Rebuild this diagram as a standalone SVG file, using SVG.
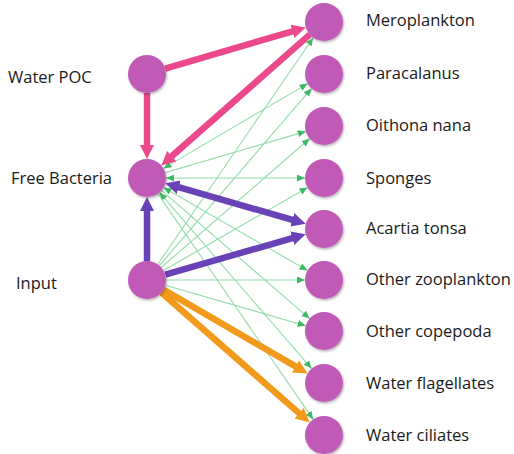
<svg xmlns="http://www.w3.org/2000/svg" width="514" height="454" viewBox="0 0 514 454">
<style>
.node{fill:#c05ab6;filter:url(#sh)}
.lbl{font-family:"Open Sans","Liberation Sans",sans-serif;font-size:16.5px;fill:#1a1a1a}
.g{stroke:#93dcaa;stroke-width:1.1;fill:none;marker-end:url(#ag)}
.pink{stroke:#ec4a8c;stroke-width:6.5;fill:none;marker-end:url(#ap);filter:url(#bl)}
.purple{stroke:#6b43b8;stroke-width:6.5;fill:none;marker-end:url(#au);filter:url(#bl)}
.orange{stroke:#f29a1f;stroke-width:6.5;fill:none;marker-end:url(#ao);filter:url(#bl)}
</style>
<defs>
<filter id="sh" x="-30%" y="-30%" width="170%" height="170%"><feDropShadow dx="1" dy="1.5" stdDeviation="1" flood-color="#000" flood-opacity="0.3"/></filter>
<filter id="bl" filterUnits="userSpaceOnUse" x="0" y="0" width="514" height="454"><feGaussianBlur stdDeviation="0.7"/></filter>
<marker id="ag" markerUnits="userSpaceOnUse" markerWidth="9" markerHeight="8" refX="8" refY="3.5" orient="auto-start-reverse"><path d="M0,0 L8,3.5 L0,7 z" fill="#3db865"/></marker>
<marker id="ap" markerUnits="userSpaceOnUse" markerWidth="15" markerHeight="15" refX="2" refY="7" orient="auto-start-reverse"><path d="M0,0 L14,7 L0,14 z" fill="#ec4a8c"/></marker>
<marker id="au" markerUnits="userSpaceOnUse" markerWidth="15" markerHeight="15" refX="2" refY="7" orient="auto-start-reverse"><path d="M0,0 L14,7 L0,14 z" fill="#6b43b8"/></marker>
<marker id="ao" markerUnits="userSpaceOnUse" markerWidth="15" markerHeight="15" refX="2" refY="7" orient="auto-start-reverse"><path d="M0,0 L14,7 L0,14 z" fill="#f29a1f"/></marker>
</defs>
<g id="connectors">
<line class="g" x1="163.4" y1="168.4" x2="307.6" y2="83.6" marker-start="url(#ag)"/>
<line class="g" x1="165.2" y1="172.6" x2="305.8" y2="131.4"/>
<line class="g" x1="166" y1="178" x2="305" y2="178" marker-start="url(#ag)"/>
<line class="g" x1="163.5" y1="187.5" x2="307.5" y2="270.5" marker-start="url(#ag)"/>
<line class="g" x1="161.4" y1="190.4" x2="309.6" y2="318.6"/>
<line class="g" x1="159.4" y1="192.4" x2="311.6" y2="368.6" marker-start="url(#ag)"/>
<line class="g" x1="157.8" y1="193.6" x2="313.2" y2="419.4"/>
<line class="g" x1="157.8" y1="264.3" x2="313.2" y2="37.7"/>
<line class="g" x1="159.4" y1="265.6" x2="311.6" y2="88.4"/>
<line class="g" x1="161.3" y1="267.5" x2="309.7" y2="138.5"/>
<line class="g" x1="163.5" y1="270.5" x2="307.5" y2="187.5"/>
<line class="g" x1="166" y1="280" x2="305" y2="280"/>
<line class="g" x1="165.3" y1="285.3" x2="305.7" y2="325.7"/>
<line class="pink" x1="165.2" y1="68.6" x2="294.3" y2="30.8"/>
<line class="pink" x1="147" y1="93" x2="147" y2="147"/>
<line class="pink" x1="309.7" y1="34.6" x2="170.3" y2="157.5"/>
<line class="purple" x1="147" y1="261" x2="147" y2="209"/>
<line class="purple" x1="176.8" y1="186.6" x2="294.2" y2="220.4" marker-start="url(#au)"/>
<line class="purple" x1="165.3" y1="274.7" x2="294.2" y2="237.6"/>
<line class="orange" x1="163.4" y1="289.6" x2="297.2" y2="367.4"/>
<line class="orange" x1="161.3" y1="292.5" x2="300.7" y2="414.6"/>
</g>
<g id="water-poc"><circle class="node" cx="147" cy="74" r="19"/><text class="lbl" x="8" y="83">Water POC</text></g>
<g id="free-bacteria"><circle class="node" cx="147" cy="178" r="19"/><text class="lbl" x="11" y="184">Free Bacteria</text></g>
<g id="input"><circle class="node" cx="147" cy="280" r="19"/><text class="lbl" x="16" y="289">Input</text></g>
<g id="meroplankton"><circle class="node" cx="324" cy="22" r="19"/><text class="lbl" x="366" y="26">Meroplankton</text></g>
<g id="paracalanus"><circle class="node" cx="324" cy="74" r="19"/><text class="lbl" x="366" y="79">Paracalanus</text></g>
<g id="oithona-nana"><circle class="node" cx="324" cy="126" r="19"/><text class="lbl" x="366" y="131">Oithona nana</text></g>
<g id="sponges"><circle class="node" cx="324" cy="178" r="19"/><text class="lbl" x="366" y="184">Sponges</text></g>
<g id="acartia-tonsa"><circle class="node" cx="324" cy="229" r="19"/><text class="lbl" x="366" y="234">Acartia tonsa</text></g>
<g id="other-zooplankton"><circle class="node" cx="324" cy="280" r="19"/><text class="lbl" x="366" y="285">Other zooplankton</text></g>
<g id="other-copepoda"><circle class="node" cx="324" cy="331" r="19"/><text class="lbl" x="366" y="337">Other copepoda</text></g>
<g id="water-flagellates"><circle class="node" cx="324" cy="383" r="19"/><text class="lbl" x="366" y="389">Water flagellates</text></g>
<g id="water-ciliates"><circle class="node" cx="324" cy="435" r="19"/><text class="lbl" x="366" y="441">Water ciliates</text></g>
</svg>
